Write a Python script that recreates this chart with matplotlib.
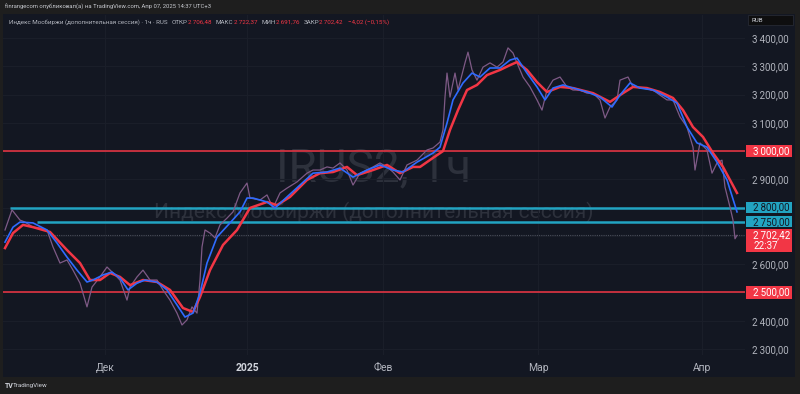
import matplotlib
matplotlib.use("Agg")
import matplotlib.pyplot as plt
from matplotlib.patches import Rectangle

plt.rcParams['font.family'] = ['Roboto', 'DejaVu Sans']

# цена (по барам, приблизительно)
price_t = [5, 12, 20, 25, 33, 40, 47, 53, 60, 67, 73, 80, 87, 92, 100, 107, 113, 120, 127, 130,
           137, 143, 150, 157, 163, 170, 177, 182, 187, 192, 197, 200, 202, 205, 210, 215, 220, 227,
           233, 240, 247, 250, 260, 267, 273, 280, 287, 297, 307, 313, 320, 327, 333, 340, 347, 353,
           360, 367, 373, 380, 387, 393, 400, 407, 417, 427, 433, 440, 443, 445, 447, 450, 455, 458,
           465, 468, 472, 477, 483, 490, 497, 503, 508, 513, 517, 523, 530, 537, 542, 547, 553, 560,
           567, 573, 580, 587, 593, 600, 605, 610, 617, 620, 628, 633, 643, 653, 660, 667, 673, 680,
           687, 693, 695, 700, 707, 712, 717, 722, 725, 730, 733, 735, 737]
price_v = [2721, 2792, 2756, 2749, 2731, 2728, 2721, 2661, 2604, 2615, 2579, 2533, 2449, 2519, 2555,
           2590, 2569, 2544, 2473, 2519, 2555, 2579, 2544, 2544, 2509, 2473, 2427, 2385, 2403, 2449,
           2427, 2544, 2661, 2721, 2710, 2693, 2739, 2763, 2785, 2852, 2887, 2834, 2827, 2845, 2799,
           2852, 2869, 2891, 2922, 2933, 2933, 2944, 2940, 2958, 2933, 2880, 2922, 2933, 2944, 2958,
           2944, 2926, 2898, 2951, 2968, 3004, 3011, 3032, 3075, 3191, 3276, 3191, 3276, 3216, 3312,
           3350, 3287, 3251, 3297, 3312, 3297, 3315, 3365, 3347, 3312, 3262, 3227, 3181, 3145, 3216,
           3251, 3262, 3227, 3216, 3216, 3205, 3205, 3181, 3117, 3156, 3181, 3251, 3262, 3227, 3223,
           3216, 3198, 3181, 3181, 3121, 3085, 3014, 2933, 3029, 3004, 2922, 2958, 2968, 2873, 2802,
           2756, 2690, 2702]

# быстрая скользящая (синяя)
blue_t = [5, 13, 20, 33, 47, 57, 67, 77, 87, 93, 103, 112, 120, 128, 137, 145, 157, 167, 177, 185,
          193, 200, 207, 217, 230, 240, 247, 253, 267, 275, 287, 300, 313, 327, 340, 353, 367, 380,
          393, 403, 417, 433, 440, 447, 453, 463, 472, 480, 490, 500, 510, 517, 527, 537, 545, 553,
          563, 573, 587, 600, 612, 620, 630, 640, 653, 667, 677, 687, 697, 707, 717, 727, 737]
blue_v = [2678, 2731, 2749, 2746, 2721, 2675, 2625, 2579, 2537, 2544, 2562, 2572, 2551, 2509, 2533,
          2544, 2537, 2509, 2456, 2413, 2427, 2498, 2604, 2696, 2746, 2785, 2834, 2834, 2820, 2799,
          2838, 2880, 2922, 2926, 2940, 2908, 2933, 2951, 2933, 2926, 2961, 2993, 3014, 3099, 3181,
          3241, 3276, 3262, 3294, 3294, 3322, 3329, 3276, 3227, 3181, 3223, 3234, 3223, 3209, 3191,
          3156, 3198, 3241, 3223, 3216, 3191, 3170, 3085, 3029, 3014, 2961, 2898, 2785]

# медленная скользящая (красная)
red_t = [5, 13, 23, 33, 50, 67, 80, 90, 100, 110, 120, 130, 143, 157, 170, 183, 193, 200, 210, 223,
         237, 250, 267, 277, 290, 307, 320, 333, 347, 357, 373, 387, 400, 413, 420, 433, 443, 450,
         458, 467, 477, 487, 500, 510, 517, 527, 537, 547, 560, 573, 593, 610, 623, 633, 647, 660,
         673, 683, 693, 703, 713, 723, 737]
red_v = [2657, 2710, 2739, 2731, 2714, 2650, 2604, 2544, 2544, 2569, 2555, 2526, 2544, 2537, 2509,
         2445, 2431, 2484, 2579, 2668, 2721, 2799, 2820, 2809, 2838, 2898, 2922, 2926, 2944, 2915,
         2933, 2951, 2922, 2944, 2944, 2976, 3000, 3075, 3145, 3216, 3234, 3269, 3287, 3304, 3315,
         3287, 3244, 3209, 3227, 3223, 3205, 3174, 3205, 3227, 3223, 3209, 3188, 3145, 3085, 3050,
         2993, 2944, 2852]

# уровни
red_levels = [3000, 2500]
cyan_levels = [2800, 2750]
cyan_starts = [10, 37]
last_price = 2702.42
last_time = "22:37"

month_pos = [105, 247, 383, 538, 702]
month_labels = ["Дек", "2025", "Фев", "Мар", "Апр"]
price_ticks = [2300, 2400, 2500, 2600, 2700, 2800, 2900, 3000, 3100, 3200, 3300, 3400]
hidden_ticks = [2500, 2700, 2800, 3000]  # закрыты плашками

BG = '#131722'
OUT = '#1e1e1e'
GREY = '#b2b5be'
RED = '#f23645'
CYAN = '#22a4c2'


def fmt(v):
    return "{:,.2f}".format(v).replace(",", "\u2009").replace(".", ",")


fig = plt.figure(figsize=(8, 3.94), dpi=100, facecolor=OUT)
fx = lambda px: px / 800
fy = lambda py: 1 - py / 394

# панель графика
fig.patches.append(Rectangle((fx(3), fy(377)), fx(792), (377 - 14) / 394,
                             transform=fig.transFigure, facecolor=BG, edgecolor='none', zorder=-5))

ax = fig.add_axes([fx(3), fy(355), 742 / 800, 340 / 394])
ax.set_zorder(1)
ax.set_facecolor(BG)
ax.set_xlim(3, 745)
ax.set_ylim(2278.8, 3481.4)
for s in ax.spines.values():
    s.set_visible(False)

ax.grid(color='#1a1e29', lw=0.8, zorder=0)
ax.set_axisbelow(True)

# водяной знак
ax.text(0.5, 0.55, "IRUS2, 1ч", transform=ax.transAxes, fontsize=33, color='#2d313c',
        ha='center', va='center', zorder=0.5)
ax.text(0.5, 0.42, "Индекс Мосбиржи (дополнительная сессия)", transform=ax.transAxes,
        fontsize=15, color='#2d313c', ha='center', va='center', zorder=0.5)

# уровни
ax.hlines(red_levels, 3, 745, color=RED, lw=1.1, zorder=2)
for lv, st in zip(cyan_levels, cyan_starts):
    ax.hlines(lv, st, 745, color=CYAN, lw=1.8, zorder=2)
ax.axhline(last_price, color='#4a4e5a', lw=0.8, ls=(0, (1, 1)), zorder=2)

# цена и скользящие
ax.plot(price_t, price_v, color='#7e5a86', lw=0.9, zorder=3)
ax.plot(red_t, red_v, color=RED, lw=1.8, zorder=4)
ax.plot(blue_t, blue_v, color='#2f6bff', lw=1.2, zorder=4)

# оси
ax.yaxis.tick_right()
ax.set_yticks(price_ticks)
ax.set_yticklabels(["" if v in hidden_ticks else fmt(v) for v in price_ticks])
ax.set_xticks(month_pos)
ax.set_xticklabels(month_labels)
ax.tick_params(axis='y', length=0, pad=5, labelsize=7, labelcolor=GREY)
ax.tick_params(axis='x', length=0, pad=6, labelsize=7.5, labelcolor=GREY)
ax.get_xticklabels()[1].set_fontweight('bold')
ax.get_xticklabels()[1].set_color('#d1d4dc')

# плашки на шкале цены
ytr = ax.get_yaxis_transform()
bx0 = (746 - 3) / 742
bw = 46 / 742
tx = (753 - 3) / 742


def tag(v, face, tc, half=21):
    ax.add_patch(Rectangle((bx0, v - half), bw, 2 * half, transform=ytr, facecolor=face,
                           edgecolor='none', clip_on=False, zorder=6))
    ax.text(tx, v, fmt(v), transform=ytr, fontsize=7, color=tc, va='center', ha='left',
            clip_on=False, zorder=7)


for lv in red_levels:
    tag(lv, RED, 'white', 22)
for lv in cyan_levels:
    tag(lv, CYAN, BG, 19)
ax.add_patch(Rectangle((bx0, 2643), bw, 81, transform=ytr, facecolor=RED, edgecolor='none',
                       clip_on=False, zorder=6))
ax.text(tx, last_price, fmt(last_price), transform=ytr, fontsize=7, color='white', va='center',
        clip_on=False, zorder=7)
ax.text(tx, 2664, last_time, transform=ytr, fontsize=7, color='white', va='center',
        clip_on=False, zorder=7)

# шапка и легенда
fig.text(fx(5), fy(7), "finrangecom опубликовал(а) на TradingView.com, Апр 07, 2025 14:37 UTC+3",
         fontsize=4.25, color='#c8cad0', va='center')
legend = [("Индекс Мосбиржи (дополнительная сессия) · 1ч · RUS", GREY, 4),
          ("ОТКР", GREY, 0), ("2\u2009706,48", RED, 5),
          ("МАКС", GREY, 0), ("2\u2009722,37", RED, 5),
          ("МИН", GREY, 0), ("2\u2009691,76", RED, 4),
          ("ЗАКР", GREY, 0), ("2\u2009702,42", RED, 5),
          ("−4,02 (−0,15%)", RED, 0)]
renderer = fig.canvas.get_renderer()
x = 9
for s, c, gap in legend:
    t = fig.text(fx(x), fy(22), s, fontsize=4.5, color=c, va='center')
    x += t.get_window_extent(renderer).width + gap

fig.patches.append(Rectangle((fx(748), fy(25)), 45 / 800, 10 / 394, transform=fig.transFigure,
                             facecolor='#0e0e0f', edgecolor='#2a2e39', lw=0.5, zorder=3))
fig.text(fx(752), fy(20), "RUB", fontsize=4.5, color='#d1d4dc', va='center')

fig.text(fx(5), fy(386), "TV", fontsize=5, fontweight='bold', color='#d1d4dc', va='center')
fig.text(fx(13), fy(386), "TradingView", fontsize=4.5, color='#d1d4dc', va='center')

fig.savefig("out.png", dpi=100, facecolor=OUT)
